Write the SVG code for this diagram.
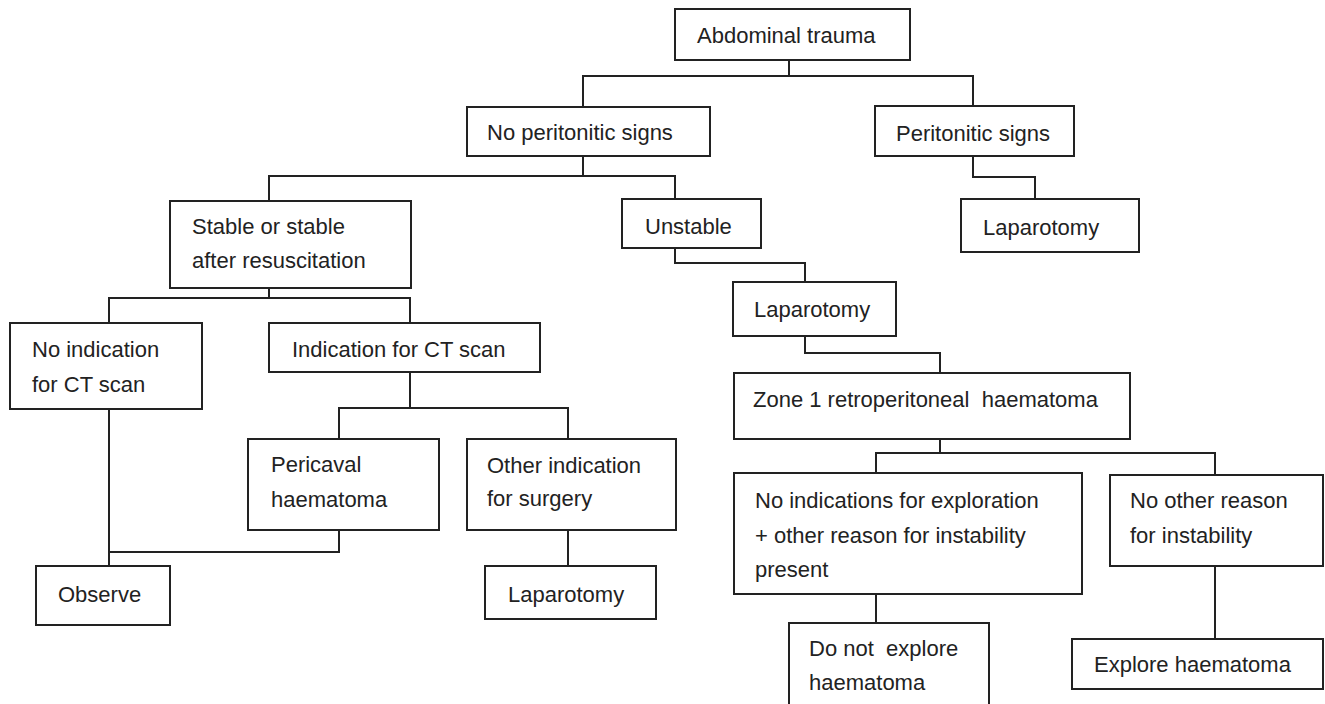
<svg xmlns="http://www.w3.org/2000/svg" width="1325" height="704" viewBox="0 0 1325 704">
<style>
.box{fill:#fff;stroke:#222;stroke-width:2}
.t{font-family:"Liberation Sans",Arial,sans-serif;font-size:22px;fill:#222;white-space:pre}
.c{fill:none;stroke:#222;stroke-width:2}
</style>
<rect width="1325" height="704" fill="#fff"/>
<g id="connectors">
<path class="c" d="M789 60V76M583 107V76H973V106"/>
<path class="c" d="M583 156V176M269 201V176H675V199"/>
<path class="c" d="M973 156V177H1035V199"/>
<path class="c" d="M269 288V298M109 323V298H410V323"/>
<path class="c" d="M675 248V263H805V282"/>
<path class="c" d="M805 336V353H940V373"/>
<path class="c" d="M940 439V453M876 473V453H1215V475"/>
<path class="c" d="M410 372V408M339 439V408H568V439"/>
<path class="c" d="M109 409V566"/>
<path class="c" d="M339 530V552H109"/>
<path class="c" d="M568 530V566"/>
<path class="c" d="M876 594V623"/>
<path class="c" d="M1215 566V639"/>
</g>
<g id="n-abdominal"><rect class="box" x="675" y="9" width="235" height="51"/><text class="t" x="697" y="43">Abdominal trauma</text></g>
<g id="n-noperit"><rect class="box" x="467" y="107" width="243" height="49"/><text class="t" x="487" y="140">No peritonitic signs</text></g>
<g id="n-perit"><rect class="box" x="875" y="106" width="199" height="50"/><text class="t" x="896" y="141">Peritonitic signs</text></g>
<g id="n-lap1"><rect class="box" x="961" y="199" width="178" height="53"/><text class="t" x="983" y="235">Laparotomy</text></g>
<g id="n-stable"><rect class="box" x="170" y="201" width="241" height="87"/><text class="t" x="192" y="234">Stable or stable</text><text class="t" x="192" y="268">after resuscitation</text></g>
<g id="n-unstable"><rect class="box" x="622" y="199" width="139" height="49"/><text class="t" x="645" y="234">Unstable</text></g>
<g id="n-lap2"><rect class="box" x="733" y="282" width="163" height="54"/><text class="t" x="754" y="317">Laparotomy</text></g>
<g id="n-zone1"><rect class="box" x="734" y="373" width="396" height="66"/><text class="t" x="753" y="407">Zone 1 retroperitoneal  haematoma</text></g>
<g id="n-noind"><rect class="box" x="10" y="323" width="192" height="86"/><text class="t" x="32" y="357">No indication</text><text class="t" x="32" y="392">for CT scan</text></g>
<g id="n-ind"><rect class="box" x="269" y="323" width="271" height="49"/><text class="t" x="292" y="357">Indication for CT scan</text></g>
<g id="n-pericaval"><rect class="box" x="248" y="439" width="191" height="91"/><text class="t" x="271" y="472">Pericaval</text><text class="t" x="271" y="507">haematoma</text></g>
<g id="n-other"><rect class="box" x="467" y="439" width="209" height="91"/><text class="t" x="487" y="473">Other indication</text><text class="t" x="487" y="506">for surgery</text></g>
<g id="n-observe"><rect class="box" x="36" y="566" width="134" height="59"/><text class="t" x="58" y="602">Observe</text></g>
<g id="n-lap3"><rect class="box" x="485" y="566" width="171" height="53"/><text class="t" x="508" y="602">Laparotomy</text></g>
<g id="n-noindexp"><rect class="box" x="734" y="473" width="348" height="121"/><text class="t" x="755" y="508">No indications for exploration</text><text class="t" x="755" y="543">+ other reason for instability</text><text class="t" x="755" y="577">present</text></g>
<g id="n-nootherreason"><rect class="box" x="1110" y="475" width="213" height="91"/><text class="t" x="1130" y="508">No other reason</text><text class="t" x="1130" y="543">for instability</text></g>
<g id="n-donot"><rect class="box" x="789" y="623" width="200" height="90"/><text class="t" x="809" y="656">Do not  explore</text><text class="t" x="809" y="690">haematoma</text></g>
<g id="n-explore"><rect class="box" x="1072" y="639" width="251" height="50"/><text class="t" x="1094" y="672">Explore haematoma</text></g>
</svg>
